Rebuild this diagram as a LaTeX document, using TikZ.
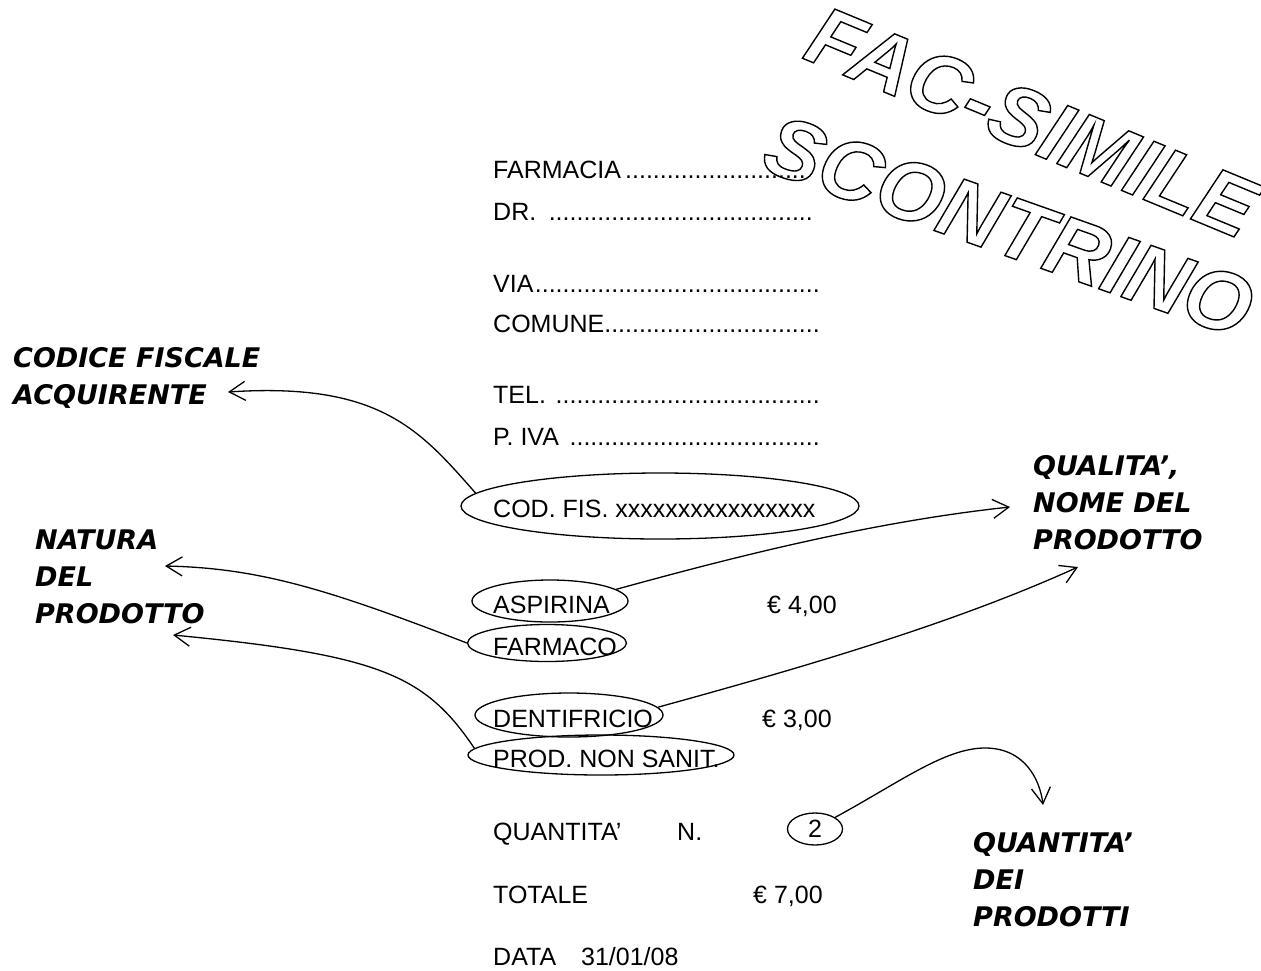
\documentclass[tikz,border=0pt]{standalone}
\usepackage{fontspec}
\setmainfont{Liberation Sans}
\newfontfamily\labelfont{DejaVu Sans}
\newfontfamily\wordartfont{Liberation Sans}
\usetikzlibrary{shapes.geometric,arrows.meta}
\newcommand\outlinetext[1]{\special{pdf:literal direct 1 Tr 1.4 w}#1\special{pdf:literal direct 0 Tr}}
\newcommand\dotline[2]{\makebox[#1][l]{#2\leaders\hbox{.}\hfill}}
\tikzset{
  body/.style={font=\fontsize{25}{30}\selectfont, inner sep=0pt, anchor=base west},
  oval/.style={draw, ellipse, line width=1.3pt, inner sep=0pt, font=\fontsize{25}{30}\selectfont},
  lbl/.style={font=\labelfont\bfseries\itshape\fontsize{27}{37}\selectfont, align=left, inner sep=0pt, anchor=north west},
  conn/.style={line width=1.3pt, -{Straight Barb[length=16pt,width=19pt,line width=1.3pt]}},
  wordart/.style={font=\wordartfont\bfseries\itshape\fontsize{#1}{#1}\selectfont, inner sep=0pt}
}
\begin{document}
\begin{tikzpicture}[x=1pt,y=-1pt]
\useasboundingbox (0,0) rectangle (1261,970);

% outlined title
\node[wordart=84, rotate=-22.5] (fac) at (1032,122) {\outlinetext{FAC-SIMILE}};
\node[wordart=85, rotate=-19.5] (scon) at (1009,226) {\outlinetext{SCONTRINO}};

% receipt header
\node[body] (farmacia) at (493,178) {\dotline{319pt}{FARMACIA}};
\node[body] (dr) at (493,220) {\dotline{325pt}{DR. }};
\node[body] (via) at (493,292) {\dotline{329pt}{VIA}};
\node[body] (comune) at (493,332) {\dotline{329pt}{COMUNE}};
\node[body] (tel) at (493,403) {\dotline{327pt}{TEL. }};
\node[body] (piva) at (493,445) {\dotline{327pt}{P. IVA }};

% codice fiscale
\node[oval, minimum width=398pt, minimum height=66pt] (codfis) at (660,506) {};
\node[body] (codfistxt) at (493,517) {COD. FIS. xxxxxxxxxxxxxxxx};

% products
\node[oval, minimum width=156pt, minimum height=42pt] (asp) at (550,601) {};
\node[body] (asptxt) at (493,613) {ASPIRINA};
\node[body] (price1) at (767,613) {€ 4,00};
\node[oval, minimum width=159pt, minimum height=37pt] (farm) at (547,643) {};
\node[body] (farmtxt) at (493,655) {FARMACO};
\node[oval, minimum width=188pt, minimum height=44pt] (dent) at (569,715) {};
\node[body] (denttxt) at (493,727) {DENTIFRICIO};
\node[body] (price2) at (762,727) {€ 3,00};
\node[oval, minimum width=266pt, minimum height=40pt] (prod) at (601,755) {};
\node[body] (prodtxt) at (493,767) {PROD. NON SANIT.};

% quantity, total, date
\node[body] (qty) at (493,840) {QUANTITA’};
\node[body] (num) at (677,840) {N.};
\node[oval, minimum width=55pt, minimum height=32pt] (two) at (815,829) {2};
\node[body] (tot) at (493,903) {TOTALE};
\node[body] (price3) at (753,903) {€ 7,00};
\node[body] (data) at (493,965) {DATA\hspace{25pt}31/01/08};

% labels
\node[lbl] (lcod) at (13,347) {CODICE FISCALE\\ACQUIRENTE};
\node[lbl] (lnat) at (35,530) {NATURA\\DEL\\PRODOTTO};
\node[lbl] (lqual) at (1033,455) {QUALITA’,\\NOME DEL\\PRODOTTO};
\node[lbl] (lqty) at (973,832) {QUANTITA’\\DEI\\PRODOTTI};

% connector ends
\coordinate (tipcod) at (228,392);
\coordinate (tipnat1) at (165,566);
\coordinate (tipnat2) at (173,635);
\coordinate (tipqual1) at (1010,507);
\coordinate (tipqual2) at (1078,567);
\coordinate (tipqty) at (1043,805);

% connectors
\draw[conn] (codfis.176) .. controls (420,430) and (380,382) .. (tipcod);
\draw[conn] (farm.180) .. controls (330,590) and (260,568) .. (tipnat1);
\draw[conn] (prod.177) .. controls (425,675) and (380,655) .. (tipnat2);
\draw[conn] (asp.10) .. controls (730,558) and (870,522) .. (tipqual1);
\draw[conn] (dent.5) .. controls (800,668) and (950,625) .. (tipqual2);
\draw[conn] (two.30) .. controls (900,782) and (945,748) .. (985,748) .. controls (1025,748) and (1040,780) .. (tipqty);
\end{tikzpicture}
\end{document}
